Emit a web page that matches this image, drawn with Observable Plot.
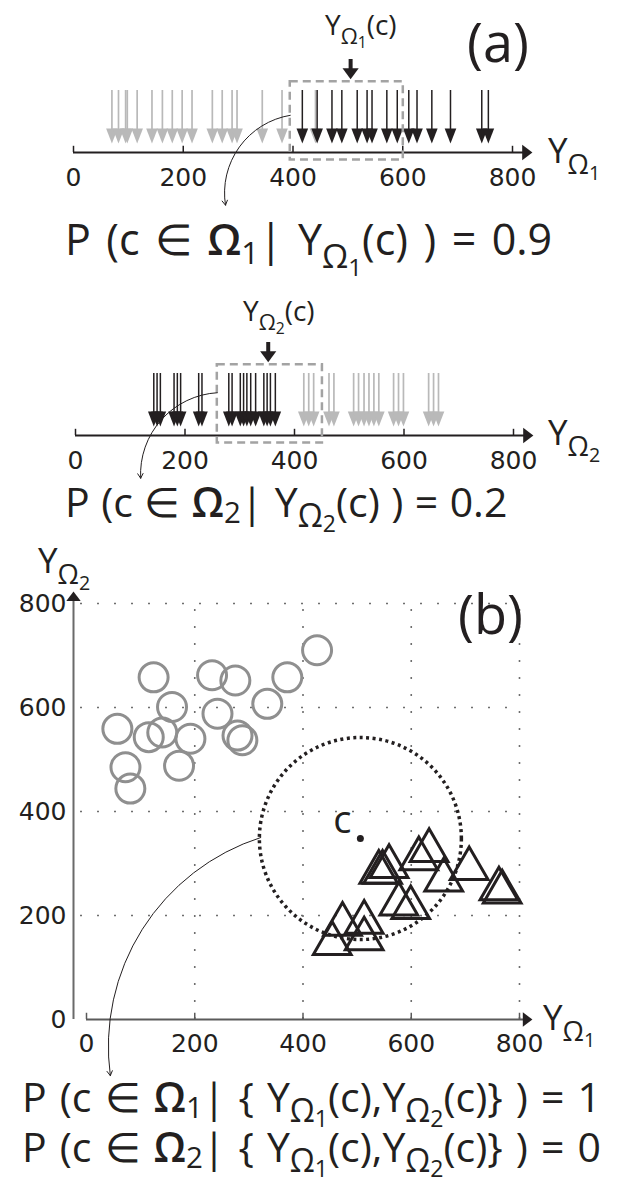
<!DOCTYPE html>
<html><head><meta charset="utf-8">
<script src="https://cdn.jsdelivr.net/npm/d3@7"></script>
<script src="https://cdn.jsdelivr.net/npm/@observablehq/plot@0.6"></script>
<style>
html,body{margin:0;padding:0;background:#fff;}
#root{position:relative;width:617px;height:1185px;overflow:hidden;color:#231f20;font-family:"Open Sans",sans-serif;}
#root svg{position:absolute;left:0;}
.t{position:absolute;white-space:nowrap;line-height:1;}
.s1{font-size:0.78em;position:relative;top:0.4em;}
.s2{font-size:0.72em;position:relative;top:0.3em;}
.om{font-weight:600;}
.f{word-spacing:0.1em;}
.g{word-spacing:0.02em;}
.h{word-spacing:0.06em;}
.g .s1,.h .s1{top:0.32em;}
.g .s2,.h .s2{top:0.22em;}
</style></head><body><div id="root"></div>
<script>
// ---------- data ----------
const ticks = [0, 200, 400, 600, 800];
// panel (a), first feature Y_Ω1
const grayA = [70, 82, 95, 98, 116, 143, 162, 180, 198, 216, 253, 271, 289, 298, 344, 380, 441];
const blackA = [417, 444, 471, 489, 517, 535, 544, 571, 590, 611, 626, 653, 687, 744, 756];
const cA = 505;
const windowA = [395, 601];
// panel (a), second feature Y_Ω2
const blackB = [143, 149, 155, 180, 186, 192, 225, 231, 280, 286, 301, 307, 313, 320, 329, 344, 350, 356, 365];
const grayB = [417, 426, 435, 463, 472, 508, 517, 527, 536, 545, 554, 581, 590, 599, 645, 654, 663];
const cB = 352;
const windowB = [259, 451];
// panel (b) scatter
const circX = [124, 57, 115, 140, 158, 192, 72, 81, 171, 232, 275, 242, 279, 288, 334, 371, 426];
const circY = [658, 559, 543, 552, 601, 540, 485, 444, 488, 662, 652, 588, 546, 537, 607, 658, 710];
const triX = [540, 559, 547, 614, 633, 660, 707, 762, 768, 577, 599, 473, 513, 454, 513];
const triY = [283, 294, 283, 309, 325, 268, 290, 251, 245, 222, 215, 183, 187, 146, 155];
const cX = 506, cY = 348;

// ---------- helpers ----------
const INK = "#231f20", GRAY = "#b9b9b9", BOX = "#a3a3a3";
const headSym = {draw(ctx, size){const r=Math.sqrt(size/Math.PI);ctx.moveTo(-0.7*r,-0.9*r);ctx.lineTo(0.7*r,-0.9*r);ctx.lineTo(0,0.9*r);ctx.closePath();}};
const fatSym = {draw(ctx, size){const r=Math.sqrt(size/Math.PI);ctx.moveTo(-0.9*r,-0.6*r);ctx.lineTo(0.9*r,-0.6*r);ctx.lineTo(0,0.6*r);ctx.closePath();}};
const root = document.getElementById("root");
const tickFont = {fontFamily: "DejaVu Sans", fontSize: 25, fill: INK};

function strip({top, height, mL, mR, mT, mB, gray, black, c, win, curve}) {
  return Plot.plot({
    width: 617, height, marginLeft: mL, marginRight: mR, marginTop: mT, marginBottom: mB,
    x: {domain: [0, 800]}, y: {domain: [0, 1]}, axis: null,
    style: {position: "absolute", top: top + "px", left: "0px", background: "transparent", overflow: "visible"},
    marks: [
      Plot.ruleX(gray, {x: d => d, y1: () => 0.3, y2: () => 1, stroke: GRAY, strokeWidth: 1.7}),
      Plot.dot(gray, {x: d => d, y: () => 0.266, symbol: headSym, r: 8.3, fill: GRAY, stroke: "none"}),
      Plot.ruleX(black, {x: d => d, y1: () => 0.3, y2: () => 1, stroke: INK, strokeWidth: 1.5}),
      Plot.dot(black, {x: d => d, y: () => 0.266, symbol: headSym, r: 8.3, fill: INK, stroke: "none"}),
      Plot.ruleY([0], {x1: () => 0, x2: () => 825, stroke: INK, strokeWidth: 2}),
      Plot.dot([0], {x: () => 827, y: () => 0, symbol: fatSym, rotate: -90, r: 8.5, fill: INK, stroke: "none"}),
      Plot.ruleX(ticks, {x: d => d, y1: () => 0, y2: () => 0.1, stroke: INK, strokeWidth: 1.5}),
      Plot.text(ticks, {x: d => d, y: () => 0, dy: 25, text: d => String(d), ...tickFont}),
      Plot.rect([win], {x1: d => d[0], x2: d => d[1], y1: () => -0.12, y2: () => 1.14, fill: "none", stroke: BOX, strokeWidth: 2.5, strokeDasharray: "8,5"}),
      Plot.ruleX([c], {x: d => d, y1: () => 1.32, y2: () => 1.5, stroke: INK, strokeWidth: 4}),
      Plot.dot([c], {x: d => d, y: () => 1.27, symbol: fatSym, r: 9, fill: INK, stroke: "none"}),
      Plot.arrow([curve], {x1: "x1", y1: "y1", x2: "x2", y2: "y2", bend: -45, headLength: 8, stroke: INK, strokeWidth: 1})
    ]
  });
}

root.appendChild(strip({top: 0, height: 215, mL: 73, mR: 105, mT: 90, mB: 63,
  gray: grayA, black: blackA, c: cA, win: windowA,
  curve: {x1: windowA[0], y1: 0.6, x2: 277, y2: -0.85}}));
root.appendChild(strip({top: 280, height: 215, mL: 75, mR: 104, mT: 93, mB: 60,
  gray: grayB, black: blackB, c: cB, win: windowB,
  curve: {x1: windowB[0], y1: 0.69, x2: 119, y2: -0.69}}));

// panel (b)
const circles = circX.map((x, i) => ({x, y: circY[i]}));
const triangles = triX.map((x, i) => ({x, y: triY[i]}));
const cPoint = [{x: cX, y: cY}];
const grid = ticks.slice(1);
root.appendChild(Plot.plot({
  width: 617, height: 545, marginLeft: 86, marginRight: 98, marginTop: 63, marginBottom: 66,
  x: {domain: [0, 800]}, y: {domain: [0, 800]}, axis: null,
  style: {position: "absolute", top: "540px", left: "0px", background: "transparent", overflow: "visible"},
  marks: [
    Plot.ruleX(grid, {x: d => d, y1: () => 0, y2: () => 800, stroke: "#6e6e6e", strokeWidth: 1.6, strokeDasharray: "2,15"}),
    Plot.ruleY(grid, {y: d => d, x1: () => 0, x2: () => 800, dx: -6, stroke: "#6e6e6e", strokeWidth: 1.6, strokeDasharray: "2,15"}),
    Plot.ruleY([0], {x1: () => 0, x2: () => 812, stroke: "#5a5a5a", strokeWidth: 2}),
    Plot.dot([0], {x: () => 815, y: () => 0, symbol: fatSym, rotate: -90, r: 8, fill: INK, stroke: "none"}),
    Plot.ruleX(ticks, {x: d => d, y1: () => 0, y2: () => 12, stroke: "#5a5a5a", strokeWidth: 1.5}),
    Plot.text(ticks, {x: d => d, y: () => 0, dy: 24, text: d => String(d), ...tickFont}),
    Plot.ruleX([0], {y1: () => 0, y2: () => 808, dx: -13, stroke: "#6a6a6a", strokeWidth: 2}),
    Plot.dot([0], {x: () => 0, y: () => 814, dx: -13, symbol: fatSym, rotate: 180, r: 8, fill: INK, stroke: "none"}),
    Plot.text(ticks, {x: () => 0, y: d => d, dx: -20, textAnchor: "end", text: d => String(d), ...tickFont}),
    Plot.dot(circles, {x: "x", y: "y", r: 14.5, stroke: "#8f8f8f", strokeWidth: 3, fill: "none"}),
    Plot.dot(triangles, {x: "x", y: "y", symbol: "triangle", r: 14, stroke: INK, strokeWidth: 3, fill: "none"}),
    Plot.dot(cPoint, {x: "x", y: "y", r: 101, stroke: INK, strokeWidth: 3.5, strokeDasharray: "3,3.5", fill: "none"}),
    Plot.dot(cPoint, {x: "x", y: "y", r: 3.5, fill: INK, stroke: "none"}),
    Plot.text(cPoint, {x: "x", y: "y", text: () => "c", dx: -18, dy: -18, fontSize: 38, fontFamily: "Open Sans", fill: INK}),
    Plot.arrow([{x1: 322, y1: 350, x2: 44, y2: -108}], {x1: "x1", y1: "y1", x2: "x2", y2: "y2", bend: -40, headLength: 8, stroke: INK, strokeWidth: 1})
  ]
}));

// ---------- text ----------
const Ysub = n => `Y<span class="s1">Ω<span class="s2">${n}</span></span>`;
const labels = [
  {l: 325, t: 10, s: 28, h: `${Ysub(1)}(c)`},
  {l: 467, t: 14, s: 54, h: "(a)"},
  {l: 548, t: 132, s: 35, h: Ysub(1)},
  {l: 65, t: 217, s: 43, c: "f", h: `P (c ∈ <span class="om">Ω</span><span class="s2">1</span>| ${Ysub(1)}(c) ) = 0.9`},
  {l: 243, t: 296, s: 28, h: `${Ysub(2)}(c)`},
  {l: 548, t: 414, s: 35, h: Ysub(2)},
  {l: 65, t: 481, s: 41, c: "g", h: `P (c ∈ <span class="om">Ω</span><span class="s2">2</span>| ${Ysub(2)}(c) ) = 0.2`},
  {l: 38, t: 542, s: 35, h: Ysub(2)},
  {l: 458, t: 586, s: 54, h: "(b)"},
  {l: 543, t: 999, s: 35, h: Ysub(1)},
  {l: 22, t: 1076, s: 41, c: "h", h: `P (c ∈ <span class="om">Ω</span><span class="s2">1</span>| { ${Ysub(1)}(c),${Ysub(2)}(c)} ) = 1`},
  {l: 22, t: 1126, s: 41, c: "h", h: `P (c ∈ <span class="om">Ω</span><span class="s2">2</span>| { ${Ysub(1)}(c),${Ysub(2)}(c)} ) = 0`}
];
for (const d of labels) {
  const el = document.createElement("div");
  el.className = "t" + (d.c ? " " + d.c : "");
  el.style.left = d.l + "px"; el.style.top = d.t + "px"; el.style.fontSize = d.s + "px";
  el.innerHTML = d.h;
  root.appendChild(el);
}
</script></body></html>
